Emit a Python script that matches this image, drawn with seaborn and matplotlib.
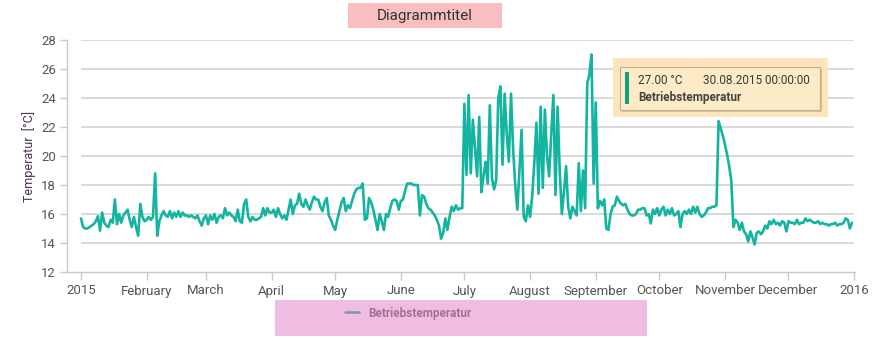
import numpy as np
import pandas as pd
import matplotlib
matplotlib.use("Agg")
import matplotlib.pyplot as plt
from matplotlib.patches import Rectangle
import seaborn as sns

# ---- data (daily values 2015) ----
jan = [15.7, 15.1, 15.0, 15.0, 15.1, 15.2, 15.3, 15.5, 15.85, 14.85,
       16.1, 15.4, 15.2, 15.1, 15.6, 15.4, 17.0, 15.3, 16.0, 15.4,
       15.9, 16.1, 16.3, 15.6, 15.1, 15.8, 15.1, 14.5, 16.7, 15.8, 15.5]
feb = [15.6, 15.8, 15.6, 15.8, 18.8, 14.5, 15.5, 15.9, 16.2, 15.9,
       15.8, 16.2, 15.7, 16.1, 15.8, 16.2, 15.8, 16.1, 15.9, 15.9,
       15.8, 15.9, 15.8, 15.7, 15.9, 15.5, 15.2, 15.7]
mar = [15.9, 15.3, 15.9, 15.6, 16.0, 15.4, 15.8, 15.9, 15.7, 16.4,
       15.9, 16.1, 15.9, 15.8, 15.5, 16.3, 15.5, 15.4, 16.7, 17.0,
       15.8, 15.5, 15.8, 15.6, 15.6, 15.7, 15.8, 16.4, 15.9, 16.4, 16.1]
apr = [16.1, 16.3, 15.8, 16.4, 16.0, 15.7, 15.9, 15.6, 16.3, 17.0,
       16.0, 16.6, 16.7, 17.4, 16.7, 16.5, 17.0, 16.6, 16.3, 16.8,
       17.2, 17.0, 17.0, 16.5, 16.2, 16.8, 17.1, 15.9, 15.6, 15.2]
may = [14.9, 15.6, 16.2, 16.8, 17.1, 16.2, 16.6, 16.4, 16.9, 17.4,
       17.7, 17.8, 17.8, 18.1, 15.6, 15.7, 17.1, 16.8, 16.3, 15.6,
       14.9, 16.0, 15.5, 14.9, 16.0, 15.8, 16.4, 16.9, 17.0, 16.9, 16.3]
jun = [16.9, 17.0, 17.6, 18.1, 18.1, 18.1, 18.0, 18.0, 18.0, 15.9,
       17.3, 17.2, 16.7, 16.4, 16.3, 16.1, 15.9, 15.6, 15.2, 14.3,
       14.7, 15.7, 14.9, 15.8, 16.5, 16.2, 16.6, 16.3, 16.4, 16.4]
jul = [23.6, 18.7, 24.2, 18.8, 22.5, 20.5, 18.6, 22.7, 17.5, 18.6,
       19.6, 18.1, 23.5, 18.5, 17.7, 18.3, 24.0, 24.8, 19.4, 24.3,
       21.5, 19.6, 24.3, 20.5, 18.0, 16.3, 19.0, 21.8, 15.8, 15.5, 16.6]
aug = [15.8, 17.2, 19.5, 22.3, 17.4, 23.4, 17.8, 23.2, 20.0, 18.6,
       21.5, 24.2, 17.3, 23.4, 19.0, 16.0, 17.5, 19.3, 16.5, 15.7,
       16.5, 16.2, 15.9, 19.5, 16.2, 19.0, 16.4, 25.0, 25.6, 27.0, 18.1]
sep = [23.7, 16.4, 16.9, 16.6, 17.0, 15.0, 14.9, 16.0, 16.5, 16.6,
       17.2, 16.9, 16.7, 16.6, 16.7, 16.3, 16.0, 15.9, 15.9, 16.0,
       16.3, 16.3, 16.4, 16.4, 15.9, 16.0, 15.35, 16.3, 16.0, 16.4]
octo = [15.9, 16.3, 16.5, 15.9, 16.3, 16.0, 16.4, 15.9, 16.0, 16.2,
        15.1, 16.0, 16.2, 16.0, 16.3, 16.0, 16.5, 16.1, 16.5, 16.0,
        15.8, 15.9, 16.1, 16.4, 16.4, 16.5, 16.5, 16.6, 22.4, 21.9, 21.4]
nov = [20.8, 20.1, 19.3, 18.3, 15.1, 15.6, 15.4, 14.9, 15.4, 14.8,
       14.6, 14.1, 14.8, 14.4, 13.9, 14.7, 14.8, 14.6, 14.8, 15.2,
       15.0, 15.5, 15.3, 15.6, 15.3, 15.4, 15.2, 15.5, 15.4, 14.8]
dec = [15.5, 15.4, 15.4, 15.3, 15.6, 15.3, 15.4, 15.4, 15.7, 15.5,
       15.6, 15.5, 15.4, 15.4, 15.5, 15.3, 15.4, 15.3, 15.3, 15.2,
       15.3, 15.3, 15.4, 15.2, 15.3, 15.3, 15.4, 15.7, 15.6, 15.0, 15.4]

series_name = "Betriebstemperatur"
tick_labels = ["2015", "February", "March", "April", "May", "June", "July",
               "August", "September", "October", "November", "December", "2016"]
y_ticks = [12, 14, 16, 18, 20, 22, 24, 26, 28]
tooltip_value = "27.00 °C"
tooltip_date = "30.08.2015 00:00:00"

values = jan + feb + mar + apr + may + jun + jul + aug + sep + octo + nov + dec
dates = pd.date_range("2015-01-01", periods=len(values), freq="D")
df = pd.DataFrame({"date": dates, "value": values})

sns.set_style("white")
plt.rcParams["font.family"] = ["Roboto", "DejaVu Sans"]

W, H = 891, 341
fig = plt.figure(figsize=(W / 100, H / 100), dpi=100)
ax = fig.add_axes([67 / W, 69 / H, 788 / W, 232 / H])

def fx(px):
    return px / W

def fy(py):
    return (H - py) / H

start = pd.Timestamp("2015-01-01")
end = pd.Timestamp("2016-01-01")

# gridlines
for yv in y_ticks[1:]:
    ax.hlines(yv, start, end, color="#d9d9d9", lw=1.4, zorder=1)

sns.lineplot(data=df, x="date", y="value", ax=ax, color="#14b5a0",
             linewidth=1.9, label=series_name, zorder=3)

ax.set_xlim(start - pd.Timedelta(days=6.6), end + pd.Timedelta(days=0.4))
ax.set_ylim(12, 28)
ax.set_yticks(y_ticks)
tick_pos = [pd.Timestamp(2015, m, 1) for m in range(1, 13)] + [end]
ax.set_xticks(tick_pos)
ax.set_xticklabels(tick_labels)

for s in ["top", "right"]:
    ax.spines[s].set_visible(False)
for s in ["left", "bottom"]:
    ax.spines[s].set_color("#c8c8c8")
    ax.spines[s].set_linewidth(1.0)

ax.tick_params(axis="y", length=5, width=1, color="#c8c8c8",
               labelcolor="#555555", labelsize=9.5, pad=3, left=True)
ax.tick_params(axis="x", length=6, width=1, color="#c8c8c8",
               labelcolor="#555555", labelsize=9.5, pad=3, bottom=True)

ax.set_xlabel("")
ax.set_ylabel("Temperatur  [°C]", color="#4a3452", fontsize=9)
ax.yaxis.set_label_coords((36 - 67) / 788, 0.5)

# legend
leg = ax.legend(loc="center left", bbox_to_anchor=(fx(334), fy(313)),
                bbox_transform=fig.transFigure, frameon=False,
                handlelength=1.2, handletextpad=0.8,
                prop={"weight": "bold", "size": 8.5})
for t in leg.get_texts():
    t.set_color("#606060")

# legend highlight overlay
fig.add_artist(Rectangle((fx(275), fy(336)), 372 / W, 36 / H,
                         transform=fig.transFigure, facecolor="#e281c9",
                         alpha=0.52, edgecolor="none", zorder=10))

# title with highlight box
fig.add_artist(Rectangle((fx(348), fy(28)), 154 / W, 25 / H,
                         transform=fig.transFigure, facecolor="#f9bfc0",
                         edgecolor="none", zorder=5))
fig.text(fx(425), fy(16), "Diagrammtitel", ha="center", va="center",
         fontsize=11, color="#333333", zorder=6)

# tooltip with highlight
fig.add_artist(Rectangle((fx(613), fy(117)), 215 / W, 59 / H,
                         transform=fig.transFigure, facecolor="#fde5bb",
                         edgecolor="none", zorder=11))
fig.add_artist(Rectangle((fx(622), fy(112)), 200 / W, 43 / H,
                         transform=fig.transFigure, facecolor="#d8c59f",
                         edgecolor="none", zorder=12))
fig.add_artist(Rectangle((fx(620), fy(110)), 200 / W, 43 / H,
                         transform=fig.transFigure, facecolor="#fdeac6",
                         edgecolor="#c2b08c", lw=0.8, zorder=13))
fig.add_artist(Rectangle((fx(625), fy(104)), 4 / W, 32 / H,
                         transform=fig.transFigure, facecolor="#0ea37f",
                         edgecolor="none", zorder=14))
fig.text(fx(638), fy(81), tooltip_value, ha="left", va="center",
         fontsize=8.5, color="#3a3a3a", zorder=15)
fig.text(fx(703), fy(81), tooltip_date, ha="left", va="center",
         fontsize=8.5, color="#3a3a3a", zorder=15)
fig.text(fx(638), fy(97), series_name, ha="left", va="center",
         fontsize=8.5, fontweight="bold", color="#444444", zorder=15)

fig.savefig("out.png", dpi=100)
